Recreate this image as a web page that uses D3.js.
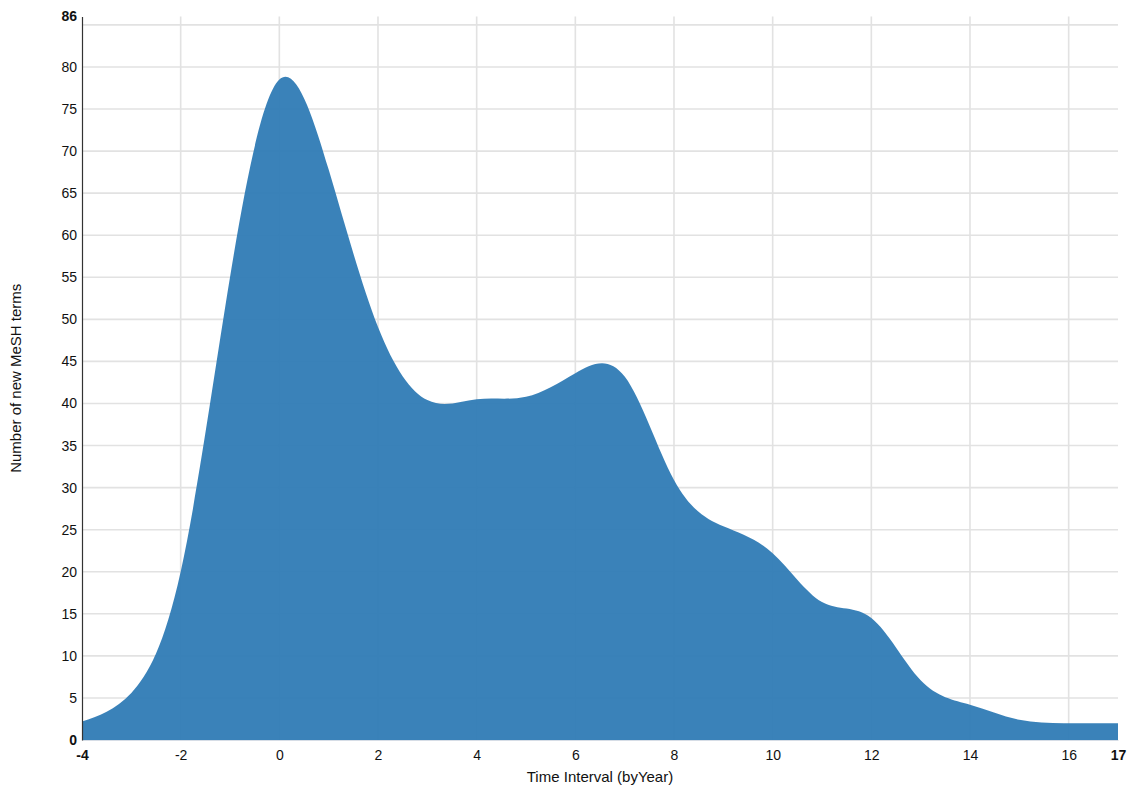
<!DOCTYPE html>
<html>
<head>
<meta charset="utf-8">
<script src="https://cdn.jsdelivr.net/npm/d3@7"></script>
<style>
  html, body { margin: 0; padding: 0; background: #fff; }
  svg { display: block; font-family: "Liberation Sans", Arial, Helvetica, sans-serif; }
</style>
</head>
<body>
<svg id="chart" width="1130" height="787"></svg>
<script>
// ---- data ----
const years  = [-4, -3, -2, -1, 0, 1, 2, 3, 4, 5, 6, 7, 8, 9, 10, 11, 12, 13, 14, 15, 16, 17];
const counts = [2.2, 5.6, 20, 55, 78.5, 67.8, 49.1, 40.4, 40.5, 40.8, 43.6, 43.2, 30.9, 25.4, 22.2, 16.4, 14.5, 7.1, 4.2, 2.4, 2.0, 2.0];
const xTickValues = [-4, -2, 0, 2, 4, 6, 8, 10, 12, 14, 16, 17];
const yTickValues = [0, 5, 10, 15, 20, 25, 30, 35, 40, 45, 50, 55, 60, 65, 70, 75, 80, 86];
const xGridValues = [-2, 0, 2, 4, 6, 8, 10, 12, 14, 16];
const yGridValues = [5, 10, 15, 20, 25, 30, 35, 40, 45, 50, 55, 60, 65, 70, 75, 80, 85];
const xTitle = "Time Interval (byYear)";
const yTitle = "Number of new MeSH terms";

// ---- layout ----
const W = 1130, H = 787;
const margin = { left: 82, right: 12, top: 16.5, bottom: 47 };
const svg = d3.select("#chart");
const x = d3.scaleLinear().domain([-4, 17]).range([margin.left, W - margin.right]);
const y = d3.scaleLinear().domain([0, 86]).range([H - margin.bottom, margin.top]);

const data = years.map((yr, i) => ({ yr, v: counts[i] }));

// grid
const grid = svg.append("g").attr("stroke", "#e2e2e2").attr("stroke-width", 1.6);
grid.selectAll("line.h").data(yGridValues).join("line")
  .attr("x1", x(-4)).attr("x2", x(17))
  .attr("y1", d => y(d)).attr("y2", d => y(d));
grid.selectAll("line.v").data(xGridValues).join("line")
  .attr("x1", d => x(d)).attr("x2", d => x(d))
  .attr("y1", y(86)).attr("y2", y(0));

// area
const area = d3.area()
  .x(d => x(d.yr))
  .y0(y(0))
  .y1(d => y(d.v))
  .curve(d3.curveNatural);
svg.append("path").datum(data)
  .attr("d", area)
  .attr("fill", "#2f7bb5")
  .attr("fill-opacity", 0.95);

// axes
const fmt = d => String(d);
const xAxis = d3.axisBottom(x).tickValues(xTickValues).tickSize(0).tickPadding(10).tickFormat(fmt);
const gx = svg.append("g").attr("transform", `translate(0,${y(0)})`).call(xAxis);
gx.select(".domain").attr("stroke", "#d6dde6").attr("stroke-width", 1);
gx.selectAll("text").attr("font-size", 14).attr("fill", "#111")
  .attr("font-family", "Liberation Sans, Arial, sans-serif")
  .attr("font-weight", d => (d === -4 || d === 17) ? "bold" : "normal");

const yAxis = d3.axisLeft(y).tickValues(yTickValues).tickSize(0).tickPadding(5).tickFormat(fmt);
const gy = svg.append("g").attr("transform", `translate(${x(-4)},0)`).call(yAxis);
gy.select(".domain").attr("stroke", "#333").attr("stroke-width", 1.2);
gy.selectAll("text").attr("font-size", 14).attr("fill", "#111")
  .attr("font-family", "Liberation Sans, Arial, sans-serif")
  .attr("font-weight", d => (d === 0 || d === 86) ? "bold" : "normal");

// titles
svg.append("text")
  .attr("x", (x(-4) + x(17)) / 2).attr("y", 782)
  .attr("text-anchor", "middle").attr("font-size", 15).attr("fill", "#111")
  .text(xTitle);
svg.append("text")
  .attr("transform", `translate(21,${(y(0) + y(86)) / 2}) rotate(-90)`)
  .attr("text-anchor", "middle").attr("font-size", 15).attr("fill", "#111")
  .text(yTitle);
</script>
</body>
</html>
